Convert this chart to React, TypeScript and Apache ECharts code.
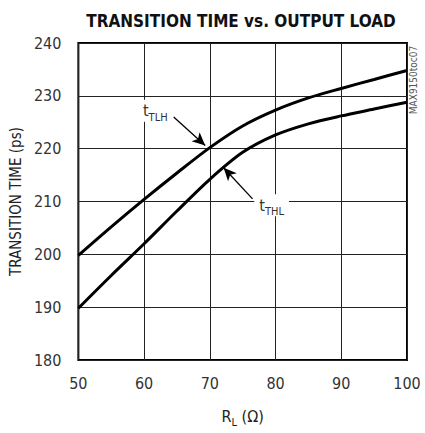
import React, { useEffect, useRef } from "react";
import * as echarts from "echarts";

const xValues = [50, 55, 60, 65, 70, 75, 80, 85, 90, 95, 100];
const tTLH = [199.8, 205.2, 210.4, 215.4, 220.2, 224.3, 227.3, 229.6, 231.4, 233.1, 234.8];
const tTHL = [189.8, 196.0, 202.0, 208.2, 214.2, 219.3, 222.6, 224.7, 226.2, 227.5, 228.8];

const FONT = '"DejaVu Sans Condensed", "Liberation Sans Narrow", "Roboto", sans-serif';

export default function App() {
  const ref = useRef<HTMLDivElement>(null);
  useEffect(() => {
    const chart = echarts.init(ref.current!, null, { renderer: "svg" });
    const sub = (main: string, s: string) => `{a|${main}}{b|${s}}`;
    const richLbl = {
      a: { fontFamily: FONT, fontSize: 16, color: "#333", verticalAlign: "bottom", lineHeight: 18 },
      b: { fontFamily: FONT, fontSize: 11, color: "#333", verticalAlign: "bottom", lineHeight: 18, padding: [0, 0, -4, 0] },
    };
    const arrow = (from: number[], to: number[]) => [
      { coord: from, symbol: "none" },
      { coord: to, symbol: "arrow", symbolSize: [9, 13] },
    ];
    chart.setOption({
      animation: false,
      backgroundColor: "#fff",
      title: {
        text: "TRANSITION TIME vs. OUTPUT LOAD",
        left: 236,
        top: 7,
        textAlign: "center",
        textStyle: { fontFamily: FONT, fontWeight: "bold", fontSize: 17, color: "#111" },
      },
      graphic: [
        {
          type: "text",
          x: 413,
          y: 80,
          rotation: Math.PI / 2,
          style: {
            text: "MAX9150toc07",
            fontFamily: FONT,
            fontSize: 10,
            fill: "#555",
            align: "center",
            verticalAlign: "middle",
          },
        },
      ],
      grid: { left: 77, right: 18, top: 43, bottom: 61, show: true, borderColor: "#000", borderWidth: 2, backgroundColor: "transparent" },
      xAxis: {
        type: "value",
        min: 50,
        max: 100,
        interval: 10,
        name: "{a|R}{b|L}{a| (Ω)}",
        nameLocation: "middle",
        nameGap: 46,
        nameTextStyle: {
          rich: {
            a: { fontFamily: FONT, fontSize: 16, color: "#222", verticalAlign: "bottom", lineHeight: 18 },
            b: { fontFamily: FONT, fontSize: 11, color: "#222", verticalAlign: "bottom", lineHeight: 18, padding: [0, 0, -4, 0] },
          },
        },
        axisLine: { show: false },
        axisTick: { show: false },
        axisLabel: { fontFamily: FONT, fontSize: 16, color: "#333", margin: 15 },
        splitLine: { show: true, lineStyle: { color: "#222", width: 1 } },
      },
      yAxis: {
        type: "value",
        min: 180,
        max: 240,
        interval: 10,
        name: "TRANSITION TIME (ps)",
        nameLocation: "middle",
        nameGap: 54,
        nameTextStyle: { fontFamily: FONT, fontSize: 15, color: "#222" },
        axisLine: { show: false },
        axisTick: { show: false },
        axisLabel: { fontFamily: FONT, fontSize: 16, color: "#333", margin: 17 },
        splitLine: { show: true, lineStyle: { color: "#222", width: 1 } },
      },
      series: [
        {
          name: "tTLH",
          type: "line",
          data: xValues.map((x, i) => [x, tTLH[i]]),
          smooth: 0.3,
          showSymbol: false,
          lineStyle: { color: "#000", width: 3 },
          markPoint: {
            symbol: "rect",
            symbolSize: 0,
            silent: true,
            label: {
              show: true,
              position: "inside",
              formatter: sub("t", "TLH"),
              backgroundColor: "#fff",
              padding: [1, 5, 3, 5],
              rich: richLbl,
            },
            data: [{ coord: [61.7, 227.2] }],
          },
          markLine: {
            silent: true,
            symbol: ["none", "arrow"],
            label: { show: false },
            lineStyle: { color: "#000", width: 1.3, type: "solid" },
            data: [arrow([64.5, 226.0], [69.3, 220.6])],
          },
        },
        {
          name: "tTHL",
          type: "line",
          data: xValues.map((x, i) => [x, tTHL[i]]),
          smooth: 0.3,
          showSymbol: false,
          lineStyle: { color: "#000", width: 3 },
          markPoint: {
            symbol: "rect",
            symbolSize: 0,
            silent: true,
            label: {
              show: true,
              position: "inside",
              formatter: sub("t", "THL"),
              backgroundColor: "#fff",
              padding: [1, 5, 3, 5],
              rich: richLbl,
            },
            data: [{ coord: [79.4, 209.3] }],
          },
          markLine: {
            silent: true,
            symbol: ["none", "arrow"],
            label: { show: false },
            lineStyle: { color: "#000", width: 1.3, type: "solid" },
            data: [arrow([76.5, 210.5], [72.1, 216.4])],
          },
        },
      ],
    });
    return () => chart.dispose();
  }, []);
  return <div ref={ref} style={{ width: 425, height: 433, position: "absolute", left: 0, top: 0 }} />;
}
